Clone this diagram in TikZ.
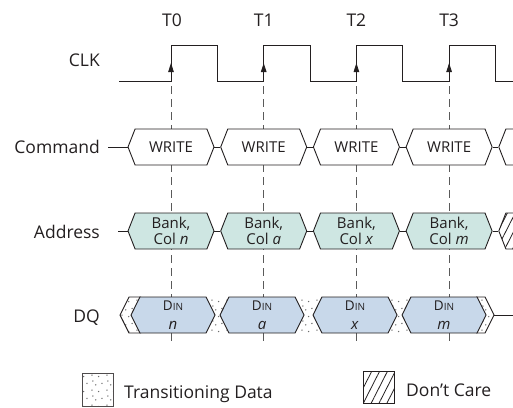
\documentclass[tikz,border=0pt]{standalone}
\usepackage{fontspec}
\setmainfont{Open Sans}
\usetikzlibrary{shapes.symbols}
\usetikzlibrary{arrows.meta}
\usetikzlibrary{patterns}
\usetikzlibrary{patterns.meta}
\definecolor{ink}{RGB}{35,31,32}
\definecolor{addrfill}{RGB}{206,230,226}
\definecolor{dqfill}{RGB}{200,216,234}
\definecolor{dashgray}{RGB}{90,90,90}
\definecolor{dotgray}{RGB}{110,110,110}

\pgfdeclarepatternformonly{speckle}{\pgfqpoint{0pt}{0pt}}{\pgfqpoint{15pt}{15pt}}{\pgfqpoint{15pt}{15pt}}{%
  \pgfpathcircle{\pgfqpoint{2pt}{3pt}}{0.8pt}
  \pgfpathcircle{\pgfqpoint{9pt}{1.5pt}}{0.8pt}
  \pgfpathcircle{\pgfqpoint{6pt}{8.5pt}}{0.8pt}
  \pgfpathcircle{\pgfqpoint{12.5pt}{10pt}}{0.8pt}
  \pgfpathcircle{\pgfqpoint{3pt}{12.5pt}}{0.8pt}
  \pgfusepath{fill}
}

\begin{document}
\begin{tikzpicture}[x=1pt,y=-1pt]
			\tikzstyle{lbl}=[inner sep=0pt, text=ink, font=\fontsize{17.5}{20}\selectfont]
			\tikzstyle{busbox}=[signal, signal to=east and west, draw=ink, line width=0.9pt, minimum height=36pt, inner sep=0pt, text=ink, align=center, font=\fontsize{15}{16}\selectfont]
			\tikzstyle{busy}=[preaction={fill=white}, pattern=speckle, pattern color=dotgray]
			\tikzstyle{nocare}=[preaction={fill=white}, pattern={Lines[angle=63,distance=7pt,line width=0.8pt]}, pattern color=ink]
			\tikzstyle{cmdbox}=[busbox, signal pointer angle=137, minimum width=86pt, fill=white]
			\tikzstyle{addrbox}=[busbox, signal pointer angle=137, minimum width=86pt, fill=addrfill]
			\tikzstyle{dcbox}=[busbox, signal pointer angle=137, minimum width=86pt, nocare]
			\tikzstyle{dqbox}=[busbox, signal pointer angle=127, minimum width=84pt, fill=dqfill, font=\fontsize{15}{19}\selectfont]
			\tikzstyle{wave}=[draw=ink, line width=0.9pt]
			\tikzstyle{guide}=[draw=dashgray, line width=0.9pt, dash pattern=on 8pt off 5pt, dash phase=8pt]
			\tikzstyle{rise}=[-{Triangle[length=9pt,width=5.5pt]}, draw=ink, line width=0.9pt]
			
			\useasboundingbox (0,0) rectangle (513,407);
			\clip (0,0) rectangle (513,407);
			
			\draw node at (100,66.7) [lbl, anchor=base east] (lclk) {CLK};
			\draw node at (172,26) [lbl, anchor=base] (t0) {T0};
			\draw node at (263.7,26) [lbl, anchor=base] (t1) {T1};
			\draw node at (356.4,26) [lbl, anchor=base] (t2) {T2};
			\draw node at (449.1,26) [lbl, anchor=base] (t3) {T3};
			
			\coordinate (r0) at (171,81);
			\coordinate (r1) at (263.7,81);
			\coordinate (r2) at (356.4,81);
			\coordinate (r3) at (449.1,81);
			\coordinate (f0) at (171,342);
			\coordinate (f1) at (263.7,342);
			\coordinate (f2) at (356.4,342);
			\coordinate (f3) at (449.1,342);
			
			\draw [guide] (r0) -- (f0);
			\draw [guide] (r1) -- (f1);
			\draw [guide] (r2) -- (f2);
			\draw [guide] (r3) -- (f3);
			
			\draw [wave] (119,81) -- (r0) -- (171,45) -- (217.4,45) -- (217.4,81) -- (r1) -- (263.7,45) -- (310,45) -- (310,81)
			  -- (r2) -- (356.4,45) -- (402.7,45) -- (402.7,81) -- (r3) -- (449.1,45) -- (495.5,45) -- (495.5,81) -- (520,81);
			\draw [rise] (r0) -- ++(0,-18);
			\draw [rise] (r1) -- ++(0,-18);
			\draw [rise] (r2) -- ++(0,-18);
			\draw [rise] (r3) -- ++(0,-18);
			
			\draw node at (100,153.3) [lbl, anchor=base east] (lcmd) {Command};
			\draw node at (171,147) [cmdbox] (c0) {WRITE};
			\draw node at (263.7,147) [cmdbox] (c1) {WRITE};
			\draw node at (356.4,147) [cmdbox] (c2) {WRITE};
			\draw node at (449.1,147) [cmdbox] (c3) {WRITE};
			\draw node at (541.8,147) [cmdbox] (c4) {};
			\coordinate (cin) at (108,147);
			\draw [wave] (cin) -- (c0.west);
			\draw [wave] (c0.east) -- (c1.west);
			\draw [wave] (c1.east) -- (c2.west);
			\draw [wave] (c2.east) -- (c3.west);
			\draw [wave] (c3.east) -- (c4.west);
			
			\draw node at (100,238.3) [lbl, anchor=base east] (laddr) {Address};
			\draw node at (171,231) [addrbox] (a0) {Bank,\\Col \textit{n}};
			\draw node at (263.7,231) [addrbox] (a1) {Bank,\\Col \textit{a}};
			\draw node at (356.4,231) [addrbox] (a2) {Bank,\\Col \textit{x}};
			\draw node at (449.1,231) [addrbox] (a3) {Bank,\\Col \textit{m}};
			\draw node at (541.8,231) [dcbox] (a4) {};
			\coordinate (ain) at (118,231);
			\draw [wave] (ain) -- (a0.west);
			\draw [wave] (a0.east) -- (a1.west);
			\draw [wave] (a1.east) -- (a2.west);
			\draw [wave] (a2.east) -- (a3.west);
			\draw [wave] (a3.east) -- (a4.west);
			
			\draw node at (100,322) [lbl, anchor=base east] (ldq) {DQ};
			\fill [busy] (141,297) -- (129,297) -- (120,315) -- (129,333) -- (141,333) -- cycle;
			\draw [wave] (141,297) -- (129,297) -- (120,315) -- (129,333) -- (141,333);
			\fill [busy] (205,297) rectangle (230,333);
			\fill [busy] (294,297) rectangle (323,333);
			\fill [busy] (387,297) rectangle (412,333);
			\fill [busy] (476,297) -- (485,297) -- (494,315) -- (485,333) -- (476,333) -- cycle;
			\draw [wave] (476,297) -- (485,297) -- (494,315) -- (485,333) -- (476,333);
			\coordinate (dout) at (520,315);
			\draw [wave] (494,315) -- (dout);
			\draw node at (173,315) [dqbox] (d0) {{\fontsize{13.5}{13.5}\selectfont D\fontsize{10}{10}\selectfont IN}\\\textit{n}};
			\draw node at (262,315) [dqbox] (d1) {{\fontsize{13.5}{13.5}\selectfont D\fontsize{10}{10}\selectfont IN}\\\textit{a}};
			\draw node at (355,315) [dqbox] (d2) {{\fontsize{13.5}{13.5}\selectfont D\fontsize{10}{10}\selectfont IN}\\\textit{x}};
			\draw node at (444,315) [dqbox] (d3) {{\fontsize{13.5}{13.5}\selectfont D\fontsize{10}{10}\selectfont IN}\\\textit{m}};
			
			\draw node at (97.5,389.5) [busy, draw=ink!80, line width=0.8pt, minimum width=31pt, minimum height=33pt, inner sep=0pt] (tleg) {};
			\draw node at (124,398) [lbl, anchor=base west] (ttxt) {Transitioning Data};
			\draw node at (378.5,387) [nocare, draw=ink, line width=0.8pt, minimum width=31pt, minimum height=32pt, inner sep=0pt] (dleg) {};
			\draw node at (406,396.5) [lbl, anchor=base west] (dtxt) {Don’t Care};
\end{tikzpicture}
\end{document}
